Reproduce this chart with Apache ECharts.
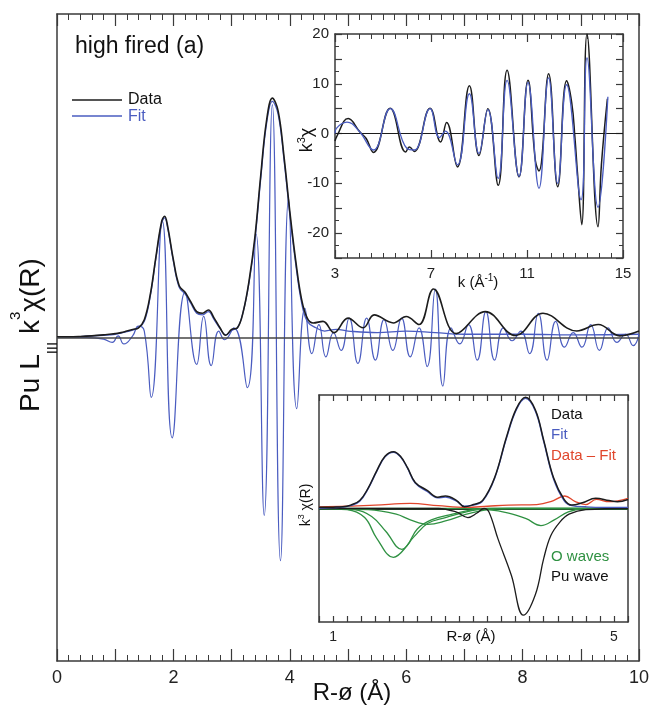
<!DOCTYPE html>
<html><head><meta charset="utf-8">
<script src="https://cdn.jsdelivr.net/npm/echarts/dist/echarts.min.js"></script>
<style>html,body{margin:0;padding:0;background:#fff}#c{width:653px;height:711px}</style>
</head><body><div id="c"></div>
<script>
// ---------- Main panel: |chi(R)| and Re chi(R) ----------
const mainDataMag = [[0,0.02],[0.2,0.02],[0.4,0.03],[0.6,0.05],[0.8,0.08],[0.9,0.1],[1.0,0.12],[1.1,0.15],[1.2,0.2],[1.3,0.25],[1.4,0.3],[1.5,0.55],[1.6,1.3],[1.7,2.5],[1.8,3.6],[1.85,3.75],[1.9,3.45],[2.0,2.4],[2.1,1.6],[2.2,1.4],[2.3,1.1],[2.4,0.8],[2.5,0.75],[2.6,0.85],[2.7,0.6],[2.8,0.3],[2.9,0.07],[3.0,0.25],[3.1,0.3],[3.2,0.8],[3.3,1.75],[3.4,3.1],[3.5,5.0],[3.6,6.7],[3.7,7.4],[3.8,7.0],[3.9,5.6],[4.0,3.9],[4.1,2.4],[4.2,1.2],[4.3,0.6],[4.4,0.45],[4.57,0.5],[4.76,0.15],[5.0,0.6],[5.26,0.3],[5.45,0.7],[5.78,0.45],[6.0,0.65],[6.22,0.4],[6.47,1.5],[6.86,0.12],[7.36,0.8],[7.88,0.06],[8.35,0.75],[8.93,0.2],[9.3,0.4],[9.67,0.05],[10,0.2]];
const mainFitMag = [[0,0.02],[0.4,0.03],[0.8,0.07],[1.0,0.1],[1.2,0.18],[1.4,0.3],[1.5,0.5],[1.6,1.25],[1.7,2.45],[1.8,3.55],[1.85,3.7],[1.9,3.4],[2.0,2.35],[2.1,1.55],[2.2,1.35],[2.3,1.05],[2.4,0.75],[2.5,0.7],[2.6,0.8],[2.7,0.55],[2.8,0.28],[2.9,0.08],[3.0,0.22],[3.1,0.3],[3.2,0.8],[3.3,1.7],[3.4,3.0],[3.5,4.9],[3.6,6.6],[3.7,7.3],[3.8,6.9],[3.9,5.5],[4.0,3.8],[4.1,2.3],[4.2,1.1],[4.3,0.5],[4.45,0.3],[4.6,0.2],[4.8,0.25],[5.0,0.2],[5.5,0.15],[6.0,0.2],[6.5,0.15],[7.0,0.1],[8.0,0.1],[9.0,0.08],[10,0.1]];
const mainFitRe = [[0,0],[0.5,0],[0.8,-0.05],[0.95,-0.15],[1.05,0.05],[1.15,-0.2],[1.3,0.05],[1.4,0.35],[1.5,0.2],[1.62,-1.85],[1.81,3.6],[1.98,-3.1],[2.2,1.4],[2.40,-0.83],[2.52,0.65],[2.65,-0.87],[2.78,0.2],[2.88,-0.07],[3.04,0.3],[3.27,-1.55],[3.42,3.2],[3.56,-5.5],[3.70,7.2],[3.84,-6.9],[3.98,4.3],[4.12,-2.2],[4.26,0.9],[4.38,-0.5],[4.5,0.4],[4.62,-0.6],[4.75,0.15],[4.88,-0.4],[5.02,0.6],[5.17,-0.8],[5.32,0.6],[5.47,-0.7],[5.62,0.55],[5.77,-0.4],[5.92,0.6],[6.07,-0.6],[6.22,0.3],[6.36,-0.9],[6.5,1.5],[6.63,-1.5],[6.77,0.3],[6.92,-0.2],[7.07,0.4],[7.22,-0.7],[7.37,0.8],[7.52,-0.7],[7.67,0.3],[7.82,-0.1],[7.97,0.2],[8.12,-0.5],[8.27,0.75],[8.42,-0.7],[8.57,0.5],[8.72,-0.3],[8.87,0.15],[9.02,-0.3],[9.17,0.4],[9.32,-0.4],[9.47,0.3],[9.62,-0.15],[9.77,0.1],[9.9,-0.25],[10,0.1]];
const mainXTicks = [0,2,4,6,8,10];

// ---------- Top inset: k^3 chi(k) ----------
const kData = [[3.0,-1.5],[3.07,-0.6],[3.55,3.0],[4.04,0.3],[4.3,-1.0],[4.6,-3.8],[5.3,5.1],[5.95,-3.7],[6.1,-2.7],[6.3,-3.6],[6.96,5.1],[7.4,-1.7],[7.65,2.2],[8.1,-6.7],[8.6,9.6],[9.0,-4.4],[9.37,5.0],[9.8,-10.4],[10.17,12.7],[10.67,-8.7],[11.04,10.7],[11.35,-5.5],[11.5,-7.5],[11.9,12.0],[12.28,-10.7],[12.65,10.6],[12.86,6.3],[13.0,-1.0],[13.1,-7.7],[13.28,-18.3],[13.5,20.0],[13.96,-18.7],[14.1,-6.3],[14.35,7.0]];
const kFit = [[3.0,0.0],[3.05,1.0],[3.5,2.3],[4.0,0.5],[4.6,-3.3],[5.3,5.0],[6.0,-3.0],[6.3,-3.3],[6.96,5.0],[7.35,-0.8],[7.6,0.5],[8.1,-6.3],[8.6,8.0],[9.0,-4.0],[9.37,4.8],[9.8,-9.0],[10.17,10.7],[10.67,-8.6],[11.04,10.3],[11.5,-11.0],[11.9,11.2],[12.28,-10.0],[12.65,9.8],[13.25,-13.3],[13.5,15.2],[13.96,-14.8],[14.37,7.4]];

// ---------- Bottom inset: components ----------
const rData = [[0.8,0.1],[1.0,0.12],[1.14,0.15],[1.25,0.3],[1.38,0.7],[1.5,1.8],[1.62,3.3],[1.74,4.6],[1.86,5.0],[1.96,4.6],[2.06,3.6],[2.17,2.3],[2.34,1.6],[2.49,1.0],[2.6,1.1],[2.76,0.7],[2.87,0.15],[3.0,0.35],[3.13,0.7],[3.3,2.7],[3.47,6.3],[3.61,8.8],[3.74,9.8],[3.88,8.7],[4.0,6.0],[4.14,2.7],[4.29,0.8],[4.4,0.3],[4.55,0.5],[4.74,0.9],[4.93,0.7],[5.05,0.6],[5.2,0.8]];
const rFit = [[0.8,0.05],[1.0,0.08],[1.14,0.12],[1.25,0.25],[1.38,0.65],[1.5,1.75],[1.62,3.25],[1.74,4.55],[1.86,4.95],[1.96,4.55],[2.06,3.55],[2.17,2.25],[2.34,1.5],[2.49,0.95],[2.6,1.0],[2.76,0.65],[2.87,0.2],[3.0,0.3],[3.13,0.65],[3.3,2.65],[3.47,6.2],[3.61,8.7],[3.74,9.7],[3.88,8.6],[4.0,5.9],[4.14,2.6],[4.29,0.7],[4.4,0.25],[4.6,0.15],[4.84,0.1],[5.2,0.1]];
const rDiff = [[0.8,0.15],[1.2,0.2],[1.6,0.3],[2.1,0.45],[2.5,0.25],[2.9,0.1],[3.2,0.2],[3.5,0.3],[3.9,0.35],[4.1,0.6],[4.3,1.1],[4.45,0.6],[4.6,0.35],[4.75,0.8],[4.93,0.6],[5.2,0.9]];
const oWave1 = [[0.8,0],[1.2,-0.1],[1.45,-0.8],[1.62,-2.6],[1.86,-4.3],[2.05,-3.3],[2.2,-1.8],[2.4,-1.0],[2.7,-0.5],[3.0,-0.1],[3.3,0],[5.2,0]];
const oWave2 = [[0.8,0],[1.3,-0.1],[1.55,-0.7],[1.75,-2.0],[1.98,-3.6],[2.15,-2.5],[2.35,-1.3],[2.6,-0.8],[2.9,-0.3],[3.2,0],[5.2,0]];
const oWave3 = [[0.8,0],[1.5,-0.1],[1.9,-0.5],[2.1,-1.0],[2.35,-1.4],[2.6,-1.1],[2.9,-0.5],[3.2,-0.1],[3.5,0],[5.2,0]];
const oWave4 = [[0.8,0],[2.8,0],[3.2,-0.1],[3.5,-0.4],[3.75,-0.9],[3.96,-1.5],[4.15,-1.0],[4.35,-0.3],[4.6,0],[5.2,0]];
const puWave = [[0.8,0],[2.5,0],[2.75,-0.3],[2.92,-0.8],[3.05,-0.4],[3.15,0],[3.22,-0.3],[3.35,-2.7],[3.54,-5.9],[3.71,-9.4],[3.88,-7.6],[4.0,-4.4],[4.1,-2.4],[4.23,-1.2],[4.36,-0.5],[4.6,-0.1],[5.2,0]];

const FONT = '"Liberation Sans", Arial, Helvetica, sans-serif';
const BLACK = '#1c1c1c', BLUE = '#4a5cc0', RED = '#e0462c', GREEN = '#2f9142', FRAME = '#3a3a3a';

function xAx(grid, min, max, interval, minorSplit, tickLen, minorLen, showLabel, pos, fmt, fs) {
  return {
    type: 'value', gridIndex: grid, min: min, max: max, interval: interval, position: pos,
    axisLine: {show: true, onZero: false, lineStyle: {color: FRAME, width: 1.5}},
    axisTick: {show: true, inside: true, length: tickLen, lineStyle: {color: FRAME, width: 1.2}},
    minorTick: {show: minorSplit > 0, splitNumber: minorSplit || 1, length: minorLen, lineStyle: {color: FRAME, width: 1}},
    axisLabel: {show: showLabel, formatter: fmt, fontSize: fs, color: '#222', fontFamily: FONT, margin: 8},
    splitLine: {show: false}, minorSplitLine: {show: false}
  };
}
function yPlain(grid, min, max, pos) {
  return {
    type: 'value', gridIndex: grid, min: min, max: max, position: pos,
    axisLine: {show: true, onZero: false, lineStyle: {color: FRAME, width: 1.5}},
    axisTick: {show: false}, axisLabel: {show: false}, splitLine: {show: false}
  };
}
const near = (v, t) => Math.abs(v - t) < 1e-6;

const chart = echarts.init(document.getElementById('c'), null, {renderer: 'canvas'});
const option = {
  animation: false,
  backgroundColor: '#fff',
  grid: [
    {left: 57, top: 14, width: 582, height: 647},
    {left: 335, top: 34, width: 288, height: 224, show: true, backgroundColor: '#fff', borderWidth: 0},
    {left: 319, top: 395, width: 309, height: 227, show: true, backgroundColor: '#fff', borderWidth: 0}
  ],
  xAxis: [
    xAx(0, 0, 10, 1, 5, 12, 6, true, 'bottom', v => (mainXTicks.some(t => near(v, t)) ? String(Math.round(v)) : ''), 18),
    xAx(0, 0, 10, 1, 5, 12, 6, false, 'top'),
    xAx(1, 3, 15, 4, 8, 8, 5, true, 'bottom', v => String(Math.round(v)), 15),
    xAx(1, 3, 15, 4, 8, 8, 5, false, 'top'),
    xAx(2, 0.8, 5.2, 0.2, 0, 6, 0, true, 'bottom', v => (near(v, 1) || near(v, 5)) ? String(Math.round(v)) : '', 14),
    xAx(2, 0.8, 5.2, 0.2, 0, 6, 0, false, 'top')
  ],
  yAxis: [
    yPlain(0, -10, 10, 'left'),
    yPlain(0, -10, 10, 'right'),
    {
      type: 'value', gridIndex: 1, min: -25, max: 20, interval: 5, position: 'left',
      axisLine: {show: true, onZero: false, lineStyle: {color: FRAME, width: 1.5}},
      axisTick: {show: true, inside: true, length: 7, lineStyle: {color: FRAME, width: 1.2}},
      minorTick: {show: true, splitNumber: 2, length: 4, lineStyle: {color: FRAME}},
      axisLabel: {formatter: v => (Math.round(v) % 10 === 0 ? String(Math.round(v)) : ''), fontSize: 15, color: '#222', fontFamily: FONT, margin: 6},
      splitLine: {show: false}
    },
    {
      type: 'value', gridIndex: 1, min: -25, max: 20, interval: 5, position: 'right',
      axisLine: {show: true, onZero: false, lineStyle: {color: FRAME, width: 1.5}},
      axisTick: {show: true, inside: true, length: 7, lineStyle: {color: FRAME, width: 1.2}},
      minorTick: {show: true, splitNumber: 2, length: 4, lineStyle: {color: FRAME}},
      axisLabel: {show: false}, splitLine: {show: false}
    },
    yPlain(2, -10, 10, 'left'),
    yPlain(2, -10, 10, 'right')
  ],
  series: [
    {type: 'line', xAxisIndex: 0, yAxisIndex: 0, data: mainFitRe, smooth: 0.5, showSymbol: false, lineStyle: {color: BLUE, width: 1.2}, z: 2,
     markLine: {silent: true, symbol: 'none', label: {show: false}, lineStyle: {color: '#444', width: 1.6, type: 'solid'}, data: [{yAxis: 0}]}},
    {type: 'line', xAxisIndex: 0, yAxisIndex: 0, data: mainFitMag, smooth: 0.4, showSymbol: false, lineStyle: {color: BLUE, width: 1.3}, z: 3},
    {type: 'line', xAxisIndex: 0, yAxisIndex: 0, data: mainDataMag, smooth: 0.4, showSymbol: false, lineStyle: {color: BLACK, width: 1.6}, z: 4},

    {type: 'line', xAxisIndex: 2, yAxisIndex: 2, data: kData, smooth: 0.45, showSymbol: false, lineStyle: {color: BLACK, width: 1.5}, z: 5,
     markLine: {silent: true, symbol: 'none', label: {show: false}, lineStyle: {color: BLACK, width: 1.2, type: 'solid'}, data: [{yAxis: 0}]}},
    {type: 'line', xAxisIndex: 2, yAxisIndex: 2, data: kFit, smooth: 0.45, showSymbol: false, lineStyle: {color: BLUE, width: 1.3}, z: 6},

    {type: 'line', xAxisIndex: 4, yAxisIndex: 4, data: oWave1, smooth: 0.4, showSymbol: false, lineStyle: {color: GREEN, width: 1.3}, z: 5},
    {type: 'line', xAxisIndex: 4, yAxisIndex: 4, data: oWave2, smooth: 0.4, showSymbol: false, lineStyle: {color: GREEN, width: 1.3}, z: 5},
    {type: 'line', xAxisIndex: 4, yAxisIndex: 4, data: oWave3, smooth: 0.4, showSymbol: false, lineStyle: {color: GREEN, width: 1.3}, z: 5},
    {type: 'line', xAxisIndex: 4, yAxisIndex: 4, data: oWave4, smooth: 0.4, showSymbol: false, lineStyle: {color: GREEN, width: 1.3}, z: 5},
    {type: 'line', xAxisIndex: 4, yAxisIndex: 4, data: puWave, smooth: 0.4, showSymbol: false, lineStyle: {color: BLACK, width: 1.3}, z: 5,
     markLine: {silent: true, symbol: 'none', label: {show: false}, lineStyle: {color: BLACK, width: 2.2, type: 'solid'}, data: [{yAxis: 0}]}},
    {type: 'line', xAxisIndex: 4, yAxisIndex: 4, data: rDiff, smooth: 0.4, showSymbol: false, lineStyle: {color: RED, width: 1.3}, z: 6},
    {type: 'line', xAxisIndex: 4, yAxisIndex: 4, data: rFit, smooth: 0.4, showSymbol: false, lineStyle: {color: BLUE, width: 1.4}, z: 7},
    {type: 'line', xAxisIndex: 4, yAxisIndex: 4, data: rData, smooth: 0.4, showSymbol: false, lineStyle: {color: BLACK, width: 1.5}, z: 8}
  ],
  graphic: [
    {type: 'text', x: 75, y: 47, z: 20, style: {text: 'high fired (a)', fontSize: 23, fontFamily: FONT, fill: '#111', textVerticalAlign: 'middle'}},
    {type: 'line', z: 20, shape: {x1: 72, y1: 100, x2: 122, y2: 100}, style: {stroke: BLACK, lineWidth: 1.5}},
    {type: 'line', z: 20, shape: {x1: 72, y1: 116, x2: 122, y2: 116}, style: {stroke: BLUE, lineWidth: 1.5}},
    {type: 'text', x: 128, y: 100, z: 20, style: {text: 'Data', fontSize: 16, fontFamily: FONT, fill: '#111', textVerticalAlign: 'middle'}},
    {type: 'text', x: 128, y: 117, z: 20, style: {text: 'Fit', fontSize: 16, fontFamily: FONT, fill: BLUE, textVerticalAlign: 'middle'}},
    {type: 'text', x: 31, y: 335, z: 20, rotation: Math.PI / 2, style: {
      text: '{a|Pu L}{sub|III}{a| k}{sup|3}{a|χ(R)}', textAlign: 'center', textVerticalAlign: 'middle',
      rich: {
        a: {fontSize: 28, fontFamily: FONT, fill: '#111', lineHeight: 59},
        sub: {fontSize: 15, fontFamily: FONT, fill: '#111', lineHeight: 14, verticalAlign: 'bottom'},
        sup: {fontSize: 15, fontFamily: FONT, fill: '#111', lineHeight: 18, verticalAlign: 'top', padding: [7, 0, 0, 0]}
      }}},
    {type: 'text', x: 352, y: 693, z: 20, style: {text: 'R-ø (Å)', fontSize: 24, fontFamily: FONT, fill: '#111', textAlign: 'center', textVerticalAlign: 'middle'}},
    {type: 'text', x: 307, y: 140, z: 20, rotation: Math.PI / 2, style: {
      text: '{a|k}{sup|3}{a|χ}', textAlign: 'center', textVerticalAlign: 'middle',
      rich: {
        a: {fontSize: 18, fontFamily: FONT, fill: '#111', lineHeight: 22},
        sup: {fontSize: 11, fontFamily: FONT, fill: '#111', lineHeight: 10, verticalAlign: 'top'}
      }}},
    {type: 'text', x: 478, y: 283, z: 20, style: {
      text: '{a|k (Å}{sup|-1}{a|)}', textAlign: 'center', textVerticalAlign: 'middle',
      rich: {
        a: {fontSize: 15, fontFamily: FONT, fill: '#111', lineHeight: 20},
        sup: {fontSize: 10, fontFamily: FONT, fill: '#111', lineHeight: 10, verticalAlign: 'top'}
      }}},
    {type: 'text', x: 306, y: 505, z: 20, rotation: Math.PI / 2, style: {
      text: '{a|k}{sup|3}{a| χ(R)}', textAlign: 'center', textVerticalAlign: 'middle',
      rich: {
        a: {fontSize: 14, fontFamily: FONT, fill: '#111', lineHeight: 18},
        sup: {fontSize: 9, fontFamily: FONT, fill: '#111', lineHeight: 9, verticalAlign: 'top'}
      }}},
    {type: 'text', x: 471, y: 637, z: 20, style: {text: 'R-ø (Å)', fontSize: 15, fontFamily: FONT, fill: '#111', textAlign: 'center', textVerticalAlign: 'middle'}},
    {type: 'text', x: 551, y: 415, z: 20, style: {text: 'Data', fontSize: 15, fontFamily: FONT, fill: '#111', textVerticalAlign: 'middle'}},
    {type: 'text', x: 551, y: 435, z: 20, style: {text: 'Fit', fontSize: 15, fontFamily: FONT, fill: BLUE, textVerticalAlign: 'middle'}},
    {type: 'text', x: 551, y: 456, z: 20, style: {text: 'Data – Fit', fontSize: 15, fontFamily: FONT, fill: RED, textVerticalAlign: 'middle'}},
    {type: 'text', x: 551, y: 557, z: 20, style: {text: 'O waves', fontSize: 15, fontFamily: FONT, fill: GREEN, textVerticalAlign: 'middle'}},
    {type: 'text', x: 551, y: 577, z: 20, style: {text: 'Pu wave', fontSize: 15, fontFamily: FONT, fill: '#111', textVerticalAlign: 'middle'}}
  ]
};
chart.setOption(option);
</script></body></html>
